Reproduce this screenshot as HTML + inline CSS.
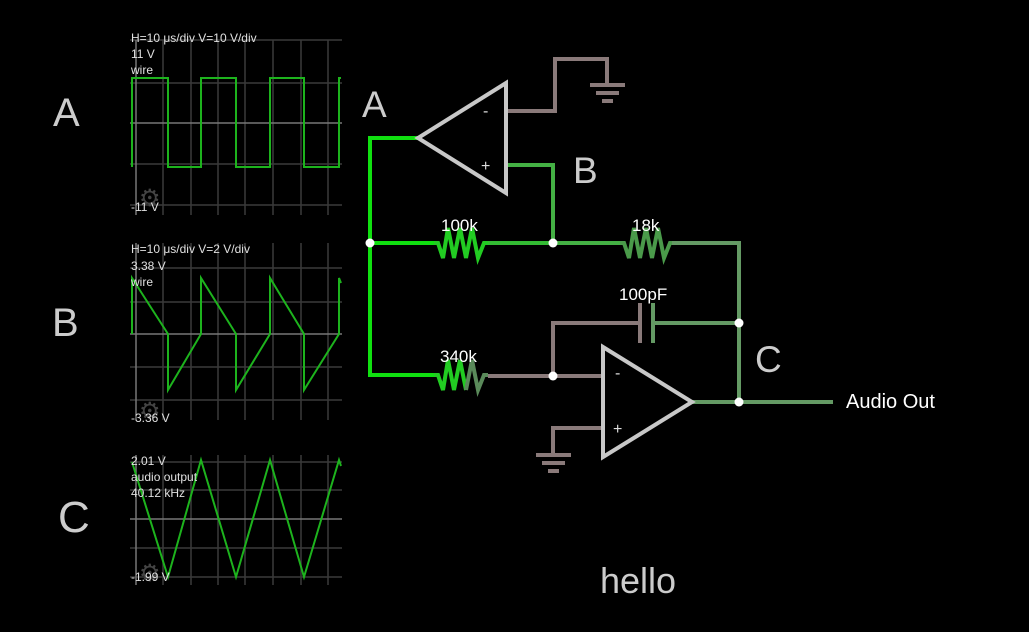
<!DOCTYPE html>
<html><head><style>
html,body{margin:0;padding:0;background:#000;}
svg{display:block;}
text{font-family:"Liberation Sans",sans-serif;}
</style></head><body>
<svg width="1029" height="632" viewBox="0 0 1029 632" xmlns="http://www.w3.org/2000/svg">
<rect width="1029" height="632" fill="#000"/>
<g stroke="#3a3a3a" stroke-width="1.5">
  <line x1="163" y1="40" x2="163" y2="215"/><line x1="191" y1="40" x2="191" y2="215"/><line x1="218" y1="40" x2="218" y2="215"/><line x1="245" y1="40" x2="245" y2="215"/><line x1="273" y1="40" x2="273" y2="215"/><line x1="301" y1="40" x2="301" y2="215"/><line x1="328" y1="40" x2="328" y2="215"/>
  <line x1="130" y1="40" x2="342" y2="40"/><line x1="130" y1="83" x2="342" y2="83"/><line x1="130" y1="164" x2="342" y2="164"/><line x1="130" y1="205" x2="342" y2="205"/>
  <g transform="translate(0,203)"><line x1="163" y1="40" x2="163" y2="217"/><line x1="191" y1="40" x2="191" y2="217"/><line x1="218" y1="40" x2="218" y2="217"/><line x1="245" y1="40" x2="245" y2="217"/><line x1="273" y1="40" x2="273" y2="217"/><line x1="301" y1="40" x2="301" y2="217"/><line x1="328" y1="40" x2="328" y2="217"/></g>
  <line x1="130" y1="268" x2="342" y2="268"/><line x1="130" y1="302" x2="342" y2="302"/><line x1="130" y1="367" x2="342" y2="367"/><line x1="130" y1="400" x2="342" y2="400"/>
  <g transform="translate(0,415)"><line x1="163" y1="40" x2="163" y2="170"/><line x1="191" y1="40" x2="191" y2="170"/><line x1="218" y1="40" x2="218" y2="170"/><line x1="245" y1="40" x2="245" y2="170"/><line x1="273" y1="40" x2="273" y2="170"/><line x1="301" y1="40" x2="301" y2="170"/><line x1="328" y1="40" x2="328" y2="170"/></g>
  <line x1="130" y1="462" x2="342" y2="462"/><line x1="130" y1="490" x2="342" y2="490"/><line x1="130" y1="548" x2="342" y2="548"/><line x1="130" y1="577" x2="342" y2="577"/>
</g>
<g stroke="#777" stroke-width="1.5">
  <line x1="136" y1="40" x2="136" y2="215"/><line x1="130" y1="123" x2="342" y2="123"/>
  <line x1="136" y1="243" x2="136" y2="420"/><line x1="130" y1="334" x2="342" y2="334"/>
  <line x1="136" y1="455" x2="136" y2="585"/><line x1="130" y1="519" x2="342" y2="519"/>
</g>
<g fill="#444" font-size="24"><text x="139" y="206">⚙</text><text x="139" y="419">⚙</text><text x="139" y="581">⚙</text></g>
<g fill="none" stroke="#1db31d" stroke-width="2">
<polyline points="132,167 132,78 168,78 168,167 201,167 201,78 236,78 236,167 270,167 270,78 304,78 304,167 339,167 339,78 341,78"/>
<polyline points="132,334 132,278 168,334 168,390 201,334 201,278 236,334 236,390 270,334 270,278 304,334 304,390 339,334 339,278 341,283"/>
<polyline points="132,462 168,577 201,460 236,577 270,460 304,577 339,460 341,466"/>
</g>
<g fill="#e0e0e0" font-size="12">
<text x="131" y="42">H=10 μs/div V=10 V/div</text><text x="131" y="58">11 V</text><text x="131" y="74">wire</text><text x="131" y="211">-11 V</text>
<text x="131" y="253">H=10 μs/div V=2 V/div</text><text x="131" y="270">3.38 V</text><text x="131" y="286">wire</text><text x="131" y="422">-3.36 V</text>
<text x="131" y="465">2.01 V</text><text x="131" y="481">audio output</text><text x="131" y="497">40.12 kHz</text><text x="131" y="581">-1.99 V</text>
</g>
<g fill="#ccc">
<text x="53" y="126" font-size="40">A</text>
<text x="52" y="336" font-size="40">B</text>
<text x="58" y="532" font-size="44">C</text>
<text x="362" y="117" font-size="37">A</text>
<text x="573" y="183" font-size="37">B</text>
<text x="755" y="372" font-size="37">C</text>
<text x="600" y="593" font-size="36">hello</text>
</g>
<g fill="none" stroke-width="4" stroke-linejoin="miter">
<polyline stroke="#10e010" points="418,138 370,138 370,375 434,375"/>
<polyline stroke="#10e010" points="370,243 434,243"/>
<polyline stroke="#22cc22" points="434,243 438,243 443,258 448,228 454,258 460,228 466,258 472,228 478,258 484,243 488,243"/>
<polyline stroke="#33bb33" points="488,243 553,243"/>
<polyline stroke="#44b044" points="506,165 553,165 553,243 620,243"/>
<polyline stroke="#4a9a4a" points="620,243 624,243 629,258 634,228 640,258 646,228 652,258 658,228 664,258 670,243 672,243"/>
<polyline stroke="#649a64" points="672,243 739,243 739,402"/>
<polyline stroke="#649a64" points="653,323 739,323"/>
<line stroke="#649a64" x1="653" y1="303" x2="653" y2="343"/>
<line stroke="#8a7a7a" x1="640" y1="303" x2="640" y2="343"/>
<polyline stroke="#8a7a7a" points="640,323 553,323 553,376 603,376"/>
<polyline stroke="#8a7a7a" points="488,376 553,376"/>
<polyline stroke="#22cc22" points="434,375 438,375 443,390 448,360 454,390 460,360 466,390"/>
<polyline stroke="#5a8a5a" points="466,390 472,360 478,390 484,375 488,375"/>
<polyline stroke="#649a64" points="692,402 833,402"/>
<polyline stroke="#8a7a7a" points="506,111 555,111 555,59 607,59 607,85"/>
<polyline stroke="#8a7a7a" points="603,428 553,428 553,455"/>
</g>
<g stroke="#8a7a7a" stroke-width="4">
<line x1="590" y1="85" x2="625" y2="85"/><line x1="596" y1="93" x2="619" y2="93"/><line x1="602" y1="101" x2="613" y2="101"/>
<line x1="536" y1="455" x2="571" y2="455"/><line x1="542" y1="463" x2="565" y2="463"/><line x1="548" y1="471" x2="559" y2="471"/>
</g>
<g fill="none" stroke="#c8c8c8" stroke-width="4">
<polygon points="506,83 506,193 418,138"/>
<polygon points="603,347 603,457 692,402"/>
</g>
<g fill="#ddd" font-size="16"><text x="483" y="116">-</text><text x="481" y="171">+</text><text x="615" y="378">-</text><text x="613" y="434">+</text></g>
<g fill="#fff"><circle cx="370" cy="243" r="4.5"/><circle cx="553" cy="243" r="4.5"/><circle cx="739" cy="323" r="4.5"/><circle cx="553" cy="376" r="4.5"/><circle cx="739" cy="402" r="4.5"/></g>
<g fill="#fff" font-size="17">
<text x="441" y="231">100k</text><text x="632" y="231">18k</text><text x="619" y="300">100pF</text><text x="440" y="362">340k</text>
<text x="846" y="408" font-size="20">Audio Out</text>
</g>
</svg>
</body></html>
